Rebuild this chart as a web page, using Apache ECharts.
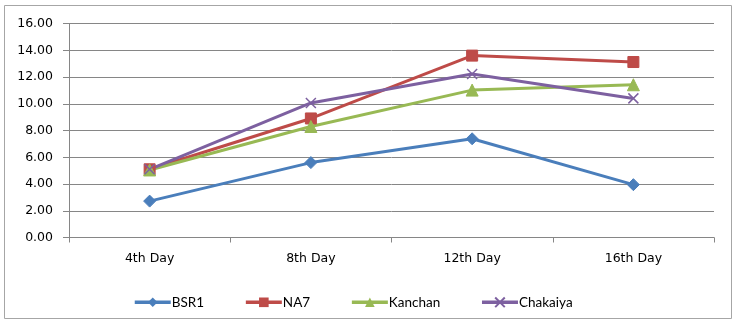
<!DOCTYPE html>
<html><head><meta charset="utf-8">
<script src="https://cdn.jsdelivr.net/npm/echarts@6/dist/echarts.min.js"></script>
<style>html,body{margin:0;padding:0;background:#fff}#c{width:740px;height:325px}</style>
</head><body><div id="c"></div>
<script>
const categories = ["4th Day", "8th Day", "12th Day", "16th Day"];
const bsr1 = [2.72, 5.6, 7.38, 3.95];
const na7 = [5.1, 8.9, 13.6, 13.12];
const kanchan = [5.05, 8.3, 11.02, 11.42];
const chakaiya = [5.1, 10.06, 12.22, 10.4];
const yTicks = { min: 0, max: 16, interval: 2 };

const font = "'DejaVu Sans', sans-serif";
const fs = 12.5;
const chart = echarts.init(document.getElementById('c'), null, {renderer: 'canvas'});
function s(name, data, color, symbol, size) {
  return {
    name, type: 'line', data, symbol, symbolSize: size,
    lineStyle: {color, width: 3}, itemStyle: {color, borderColor: color},
    emphasis: {disabled: true}, animation: false
  };
}
const xPath = 'path://M0,0 L10,10 M10,0 L0,10';
chart.setOption({
  animation: false,
  graphic: [{type: 'rect', shape: {x: 4.5, y: 5.5, width: 727, height: 313}, style: {fill: 'none', stroke: '#a6a6a6', lineWidth: 1}}],
  grid: {left: 69, right: 26, top: 23.5, bottom: 87.5, containLabel: false},
  legend: {
    top: 290, left: 128, itemGap: 40, itemWidth: 36, itemHeight: 12,
    lineStyle: {width: 3.5},
    textStyle: {fontFamily: "Lato, sans-serif", fontSize: 13.5, color: '#000', padding: [0, 0, 0, -4]},
    data: ['BSR1', 'NA7', 'Kanchan', 'Chakaiya']
  },
  xAxis: {
    type: 'category', data: categories, boundaryGap: true,
    axisLine: {lineStyle: {color: '#868686'}},
    axisTick: {show: true, length: 5, lineStyle: {color: '#868686'}},
    axisLabel: {fontFamily: font, fontSize: fs, color: '#000', margin: 15}
  },
  yAxis: {
    type: 'value', min: yTicks.min, max: yTicks.max, interval: yTicks.interval,
    axisLine: {show: true, lineStyle: {color: '#868686'}},
    axisTick: {show: true, length: 6, lineStyle: {color: '#868686'}},
    splitLine: {lineStyle: {color: '#868686'}},
    axisLabel: {fontFamily: font, fontSize: fs, color: '#000', margin: 16, formatter: v => v.toFixed(2)}
  },
  series: [
    s('BSR1', bsr1, '#4A7EBB', 'diamond', 12),
    s('NA7', na7, '#BE4B48', 'rect', 11),
    s('Kanchan', kanchan, '#98B954', 'triangle', 12),
    Object.assign(s('Chakaiya', chakaiya, '#7D60A0', xPath, 10), {itemStyle: {color: 'none', borderColor: '#7D60A0', borderWidth: 1.5}})
  ]
});
</script></body></html>
